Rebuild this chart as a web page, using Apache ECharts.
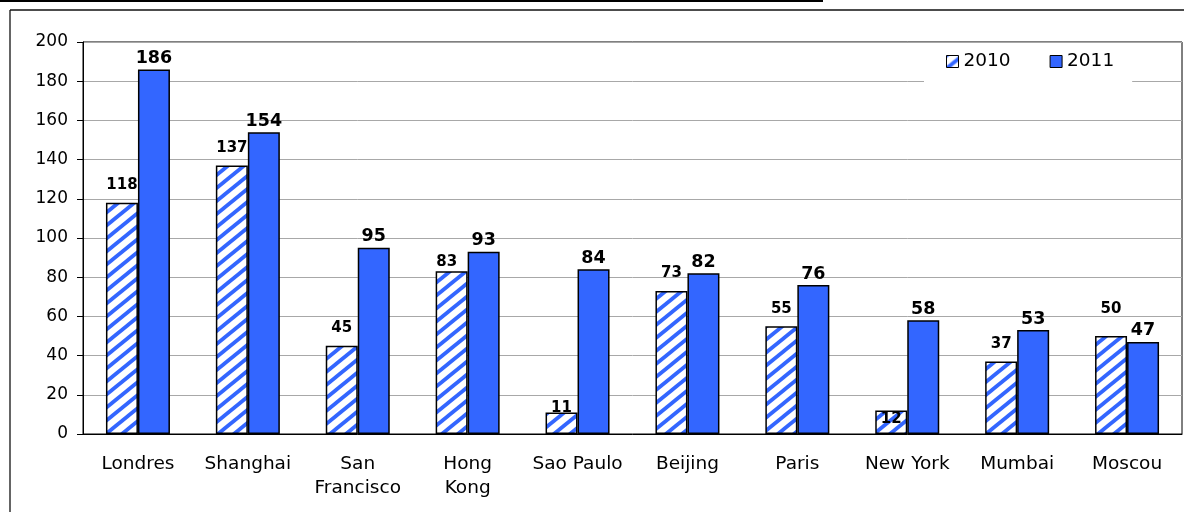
<!DOCTYPE html>
<html>
<head>
<meta charset="utf-8">
<script src="https://cdn.jsdelivr.net/npm/echarts@6/dist/echarts.min.js"></script>
<style>
  html, body { margin: 0; padding: 0; background: #fff; }
  #chart { width: 1184px; height: 512px; }
</style>
</head>
<body>
<div id="chart"></div>
<script>
// Cities and yearly values
const categories = ['Londres', 'Shanghai', 'San\nFrancisco', 'Hong\nKong', 'Sao Paulo', 'Beijing', 'Paris', 'New York', 'Mumbai', 'Moscou'];
const values2010 = [118, 137, 45, 83, 11, 73, 55, 12, 37, 50];
const values2011 = [186, 154, 95, 93, 84, 82, 76, 58, 53, 47];
const seriesNames = ['2010', '2011'];

const FONT = 'DejaVu Sans';
const BLUE = '#3366ff';

// Label placement tweaks for a few 2010 labels (index -> label overrides)
const labelTweaks2010 = {
  3: { distance: 2, offset: [-5, 0] },
  4: { distance: -3 },
  7: { distance: -16 },
  9: { distance: 19 }
};

// Diagonal stripe fill for the 2010 bars
function makeStripes() {
  const w = 16, h = 13;
  const c = document.createElement('canvas');
  c.width = w; c.height = h;
  const ctx = c.getContext('2d');
  ctx.fillStyle = '#ffffff';
  ctx.fillRect(0, 0, w, h);
  ctx.strokeStyle = BLUE;
  ctx.lineWidth = 3.8;
  for (const o of [-w, 0, w]) {
    ctx.beginPath();
    ctx.moveTo(o - w * 0.2, h * 1.2);
    ctx.lineTo(o + w * 1.2, -h * 0.2);
    ctx.stroke();
  }
  return c;
}
const stripes = { image: makeStripes(), repeat: 'repeat' };

const data2010 = values2010.map((v, i) => {
  const item = { value: v };
  if (labelTweaks2010[i]) item.label = labelTweaks2010[i];
  return item;
});

const chart = echarts.init(document.getElementById('chart'), null, { renderer: 'canvas' });
chart.setOption({
  animation: false,
  backgroundColor: '#ffffff',
  grid: { left: 83, right: 2, top: 42, bottom: 78, show: true, borderColor: '#000', borderWidth: 1 },
  legend: {
    data: seriesNames,
    left: 924, top: 44,
    padding: [8, 18, 16, 22],
    backgroundColor: '#ffffff',
    icon: 'rect',
    itemWidth: 12, itemHeight: 12, itemGap: 39,
    itemStyle: { borderColor: '#000', borderWidth: 1 },
    textStyle: { fontFamily: FONT, fontSize: 18.5, color: '#000' }
  },
  xAxis: {
    type: 'category',
    data: categories,
    axisLine: { lineStyle: { color: '#000', width: 1 } },
    axisTick: { length: 7, lineStyle: { color: '#000' } },
    axisLabel: { interval: 0, margin: 18, fontFamily: FONT, fontSize: 18.5, lineHeight: 24, color: '#000' },
    splitLine: { show: false }
  },
  yAxis: {
    type: 'value',
    min: 0, max: 200, interval: 20,
    axisLine: { show: true, lineStyle: { color: '#000', width: 1 } },
    axisTick: { show: true, length: 6, lineStyle: { color: '#000' } },
    axisLabel: { margin: 15, fontFamily: FONT, fontSize: 17, color: '#000' },
    splitLine: { lineStyle: { color: '#a8a8a8', width: 1 } }
  },
  series: [
    {
      name: seriesNames[0],
      type: 'bar',
      barWidth: 32,
      barGap: '0%',
      data: data2010,
      itemStyle: { color: stripes, borderColor: '#000', borderWidth: 1.5 },
      label: { show: true, position: 'top', distance: 10, fontFamily: FONT, fontSize: 15, fontWeight: 'bold', color: '#000' }
    },
    {
      name: seriesNames[1],
      type: 'bar',
      barWidth: 32,
      barGap: '0%',
      data: values2011,
      itemStyle: { color: BLUE, borderColor: '#000', borderWidth: 1.5 },
      label: { show: true, position: 'top', distance: 2, fontFamily: FONT, fontSize: 17.5, fontWeight: 'bold', color: '#000' }
    }
  ],
  graphic: [
    { type: 'line', shape: { x1: 0, y1: 1, x2: 823, y2: 1 }, style: { stroke: '#000', lineWidth: 2 } },
    { type: 'line', shape: { x1: 10, y1: 10, x2: 1184, y2: 10 }, style: { stroke: '#111', lineWidth: 1.3 } },
    { type: 'line', shape: { x1: 10, y1: 10, x2: 10, y2: 512 }, style: { stroke: '#111', lineWidth: 1.3 } }
  ]
});
</script>
</body>
</html>
